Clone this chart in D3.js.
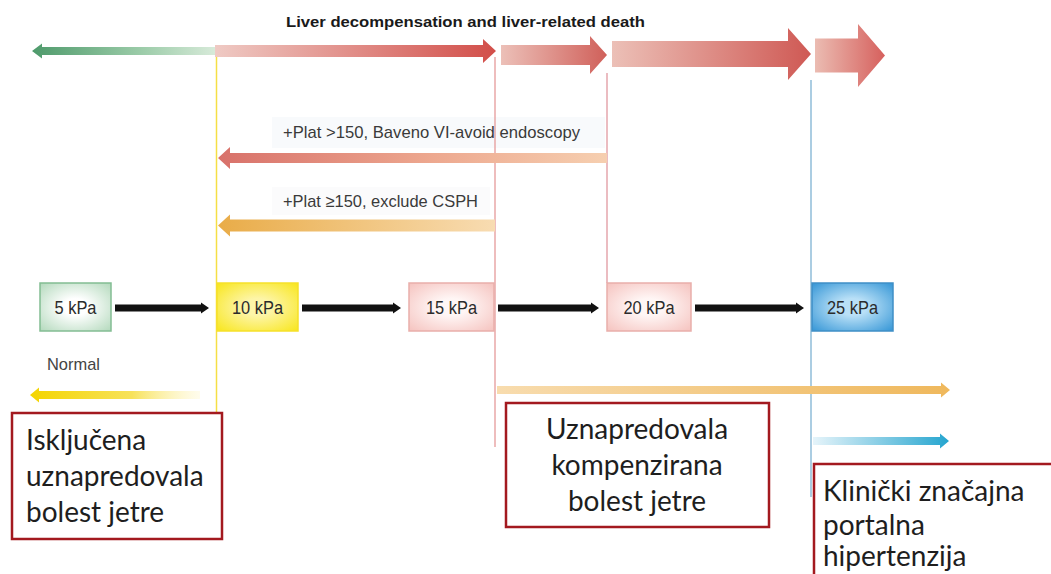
<!DOCTYPE html>
<html lang="hr">
<head>
<meta charset="utf-8" />
<title>Elastografija jetre</title>
<script src="https://cdn.jsdelivr.net/npm/d3@7"></script>
<style>
  body { margin: 0; background: #fff; }
  svg { display: block; }
</style>
</head>
<body>
<script>
// podaci
var title = "Liver decompensation and liver-related death";
var stageValues = [5, 10, 15, 20, 25];
var stageLabels = ["5 kPa", "10 kPa", "15 kPa", "20 kPa", "25 kPa"];
var plateletRules = ["+Plat >150, Baveno VI-avoid endoscopy", "+Plat \u2265150, exclude CSPH"];
var normalLabel = "Normal";
var boxTexts = [
  ["Isklju\u010Dena", "uznapredovala", "bolest jetre"],
  ["Uznapredovala", "kompenzirana", "bolest jetre"],
  ["Klini\u010Dki zna\u010Dajna", "portalna", "hipertenzija"]
];

var W = 1051, H = 574;
var svg = d3.select("body").append("svg").attr("width", W).attr("height", H);
var defs = svg.append("defs");

// kPa -> lijevi rub kutije
var x = d3.scaleLinear().domain(stageValues).range([40, 217, 409, 607, 812]);
var boxW = { 5: 71, 10: 81, 15: 85, 20: 84, 25: 81 };
var narrow = "'Liberation Sans Narrow', 'Liberation Sans', Arial, sans-serif";

function linGrad(id, x1, x2, stops) {
  var g = defs.append("linearGradient").attr("id", id)
    .attr("gradientUnits", "userSpaceOnUse")
    .attr("x1", x1).attr("x2", x2).attr("y1", 0).attr("y2", 0);
  stops.forEach(function(s) {
    g.append("stop").attr("offset", s[0]).attr("stop-color", s[1]).attr("stop-opacity", s[2] == null ? 1 : s[2]);
  });
  return "url(#" + id + ")";
}
function radGrad(id, inner, outer) {
  var g = defs.append("radialGradient").attr("id", id).attr("r", "70%");
  g.append("stop").attr("offset", "0.25").attr("stop-color", inner);
  g.append("stop").attr("offset", "1").attr("stop-color", outer);
  return "url(#" + id + ")";
}
// horizontalna strelica, vrh u tip
function arrowPath(tail, tip, cy, sh, hh, hl) {
  var d = tip > tail ? 1 : -1;
  var base = tip - d * hl;
  return "M" + tail + "," + (cy - sh) + "L" + base + "," + (cy - sh) + "L" + base + "," + (cy - hh) +
    "L" + tip + "," + cy + "L" + base + "," + (cy + hh) + "L" + base + "," + (cy + sh) +
    "L" + tail + "," + (cy + sh) + "Z";
}
function arrow(tail, tip, cy, sh, hh, hl, fill) {
  return svg.append("path").attr("d", arrowPath(tail, tip, cy, sh, hh, hl)).attr("fill", fill);
}
function fitText(sel, w) {
  return sel.attr("textLength", w).attr("lengthAdjust", "spacingAndGlyphs");
}

// pozadina oznaka (jedva vidljiva)
svg.append("rect").attr("x", 272).attr("y", 117).attr("width", 333).attr("height", 31).attr("fill", "#f8fafc");
svg.append("rect").attr("x", 272).attr("y", 187).attr("width", 218).attr("height", 28).attr("fill", "#fbfbfc");

// okomite linije
var vlines = [
  [216.5, 51, 412, "#f5df45"],
  [495, 57, 447, "#e8a7a7"],
  [607, 73, 283, "#e5a6ad"],
  [811, 80, 497, "#8fbcd8"]
];
svg.selectAll("line.v").data(vlines).enter().append("line")
  .attr("class", "v")
  .attr("x1", function(d) { return d[0]; }).attr("x2", function(d) { return d[0]; })
  .attr("y1", function(d) { return d[1]; }).attr("y2", function(d) { return d[2]; })
  .attr("stroke", function(d) { return d[3]; }).attr("stroke-width", 1.5);

// naslov
fitText(svg.append("text").attr("x", 286).attr("y", 27)
  .attr("font-family", "'Liberation Sans', Arial, sans-serif").attr("font-weight", "bold")
  .attr("font-size", 15).attr("fill", "#1a1a1a").text(title), 359);

// gornje strelice
arrow(215, 32, 51, 4, 7.5, 10, linGrad("gGreen", 32, 215, [[0, "#4e9a6b"], [0.6, "#9ccca9"], [1, "#d7ead9"]]));
arrow(215, 496, 51, 6, 12, 13, linGrad("gRed1", 215, 496, [[0, "#efcac4"], [1, "#d24e49"]]));
arrow(501, 607, 55, 10, 19, 17, linGrad("gRed2", 501, 607, [[0, "#ecc0b8"], [1, "#d0605a"]]));
arrow(612, 811, 54, 13, 26, 23, linGrad("gRed3", 612, 811, [[0, "#ecc0b7"], [1, "#cf5954"]]));
arrow(815, 885, 55.5, 17, 31.5, 27, linGrad("gRed4", 815, 885, [[0, "#ebbcb2"], [1, "#d6605d"]]));

// pravila trombocita
fitText(svg.append("text").attr("x", 283).attr("y", 138)
  .attr("font-family", narrow).attr("font-size", 17).attr("fill", "#3a3a3a").text(plateletRules[0]), 297);
arrow(607, 218, 158, 5, 11, 12, linGrad("gPlat1", 218, 607, [[0, "#d8716a"], [0.55, "#eda88f"], [1, "#f6cfb0"]]));
fitText(svg.append("text").attr("x", 283).attr("y", 207)
  .attr("font-family", narrow).attr("font-size", 17).attr("fill", "#3a3a3a").text(plateletRules[1]), 195);
arrow(495, 218, 225.5, 6, 11, 12, linGrad("gPlat2", 218, 495, [[0, "#e9ac48"], [1, "#f8dcb2"]]));

// kutije kPa
var boxFill = {
  5: radGrad("b5", "#ffffff", "#b3d9bc"),
  10: radGrad("b10", "#fdf5a8", "#f8e61c"),
  15: radGrad("b15", "#fff6f5", "#f5c3bf"),
  20: radGrad("b20", "#fff6f5", "#f5c3bf"),
  25: radGrad("b25", "#b9e0f7", "#3596d6")
};
var boxStroke = { 5: "#83bd93", 10: "#f6e12a", 15: "#e9aeaa", 20: "#e9aeaa", 25: "#3f8fc6" };
var g = svg.selectAll("g.stage").data(stageValues).enter().append("g").attr("class", "stage");
g.append("rect")
  .attr("x", function(d) { return x(d); }).attr("y", 283)
  .attr("width", function(d) { return boxW[d]; }).attr("height", 48)
  .attr("fill", function(d) { return boxFill[d]; })
  .attr("stroke", function(d) { return boxStroke[d]; }).attr("stroke-width", 1.5);
g.append("text")
  .attr("x", function(d) { return x(d) + boxW[d] / 2; }).attr("y", 314)
  .attr("text-anchor", "middle").attr("font-family", narrow).attr("font-size", 19).attr("fill", "#2b2b2b")
  .attr("textLength", function(d, i) { return stageLabels[i].length > 5 ? 51 : 42; })
  .attr("lengthAdjust", "spacingAndGlyphs")
  .text(function(d, i) { return stageLabels[i]; });

// crne strelice izmedu kutija
d3.pairs(stageValues).forEach(function(p) {
  var tail = x(p[0]) + boxW[p[0]] + 4;
  var tip = x(p[1]) - 8;
  arrow(tail, tip, 308, 3.5, 5.5, 8, "#111");
});

// Normal
fitText(svg.append("text").attr("x", 47).attr("y", 370)
  .attr("font-family", narrow).attr("font-size", 17).attr("fill", "#444").text(normalLabel), 53);
arrow(200, 30, 395, 4, 7.5, 9, linGrad("gYel", 30, 200, [[0, "#f4d500"], [0.6, "#f7e25a"], [1, "#fff8d0", 0.4]]));

// donje strelice
arrow(497, 950, 390, 4, 7.5, 9, linGrad("gOr", 497, 950, [[0, "#f8dcae"], [1, "#efb85c"]]));
arrow(813, 949, 441, 4, 7.5, 9, linGrad("gBlue", 813, 949, [[0, "#e6f4fa"], [1, "#25a5cf"]]));

// crvene kutije s tekstom
var boxes = [
  { x: 12, y: 413, w: 210, h: 126, tx: 26, anchor: "start", base: [450, 486, 522] },
  { x: 506, y: 403, w: 263, h: 124, tx: 637, anchor: "middle", base: [439, 475, 511] },
  { x: 814, y: 464, w: 260, h: 130, tx: 823, anchor: "start", base: [501, 535, 566] }
];
boxes.forEach(function(b, i) {
  svg.append("rect").attr("x", b.x).attr("y", b.y).attr("width", b.w).attr("height", b.h)
    .attr("fill", "#fff").attr("stroke", "#a3191f").attr("stroke-width", 2.5);
  svg.append("g").selectAll("text").data(boxTexts[i]).enter().append("text")
    .attr("x", b.tx).attr("y", function(d, j) { return b.base[j]; })
    .attr("text-anchor", b.anchor)
    .attr("font-family", "Lato, 'Open Sans', sans-serif").attr("font-size", 28).attr("fill", "#1e1e1e")
    .text(function(d) { return d; });
});
</script>
</body>
</html>
